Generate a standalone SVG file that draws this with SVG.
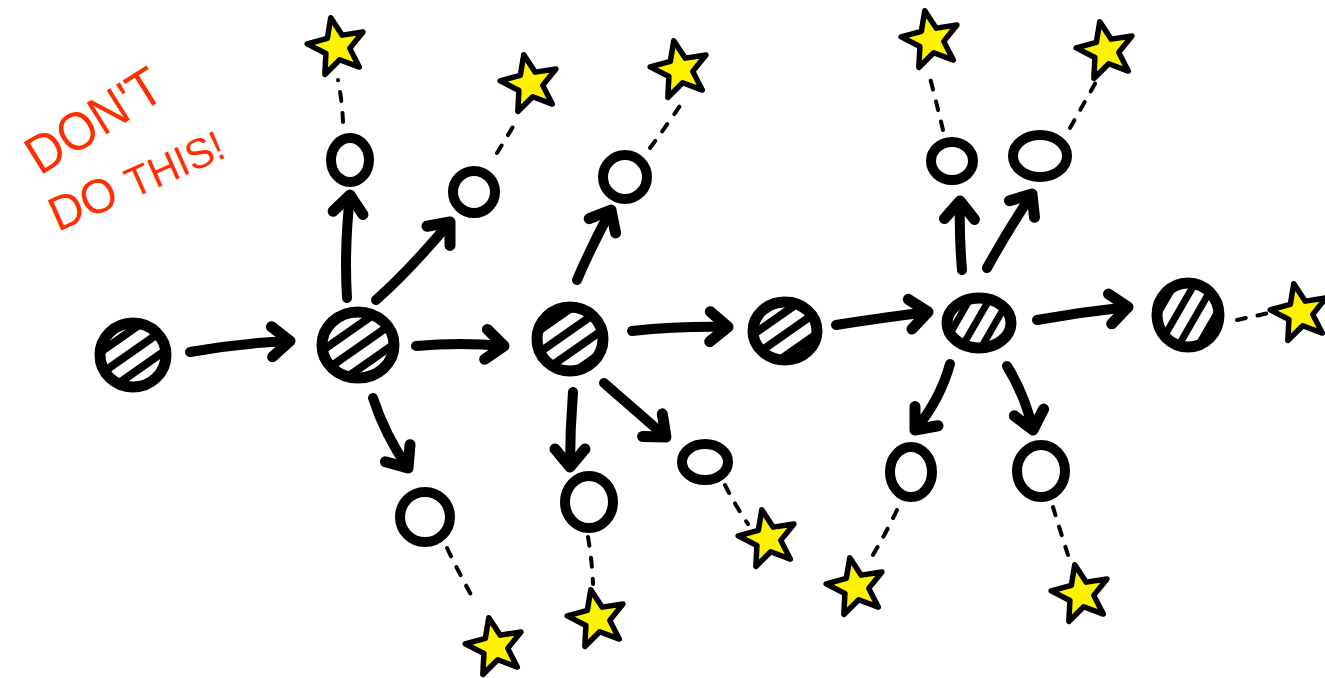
<svg xmlns="http://www.w3.org/2000/svg" width="1325" height="678" viewBox="0 0 1325 678">
<style>
.ring{fill:#fff;stroke:#000;stroke-width:10}
.hring{fill:none;stroke:#000;stroke-width:11}
.arrow{fill:none;stroke:#000;stroke-width:10;stroke-linecap:round;marker-end:url(#ah)}
.dash{fill:none;stroke:#000;stroke-width:4;stroke-linecap:round;stroke-dasharray:9 12}
.star{fill:#FFF200;stroke:#000;stroke-width:5.5;stroke-linejoin:round}
.note{fill:#FF2E00;font-family:"Liberation Sans",Arial,sans-serif}
</style>
<defs>
<pattern id="hatchA" patternUnits="userSpaceOnUse" width="18" height="18" patternTransform="rotate(-35)">
<rect width="18" height="18" fill="#fff"/>
<rect y="0" width="18" height="8" fill="#000"/>
</pattern>
<pattern id="hatchB" patternUnits="userSpaceOnUse" width="17" height="17" patternTransform="rotate(-60)">
<rect width="17" height="17" fill="#fff"/>
<rect y="0" width="17" height="7" fill="#000"/>
</pattern>
<marker id="ah" markerUnits="userSpaceOnUse" markerWidth="50" markerHeight="50" viewBox="-30 -25 50 50" refX="0" refY="0" orient="auto" overflow="visible">
<path d="M-18,-15 L0,0 L-18,15" fill="none" stroke="#000" stroke-width="11" stroke-linecap="round" stroke-linejoin="round"/>
</marker>
<path id="starShape" d="M0,-30 L7.6,-10.5 L28.5,-9.3 L12.2,4 L17.6,24.3 L0,13 L-17.6,24.3 L-12.2,4 L-28.5,-9.3 L-7.6,-10.5 Z"/>
</defs>

<g id="note">
<text class="note" x="40" y="176" font-size="54" textLength="150" lengthAdjust="spacingAndGlyphs" transform="rotate(-32 40 176)">DON'T</text>
<text class="note" x="58" y="232" font-size="48" textLength="186" lengthAdjust="spacingAndGlyphs" transform="rotate(-24 58 232)">DO <tspan font-size="42">THIS!</tspan></text>
</g>

<g id="connectors">
<path class="arrow" d="M190,352 Q240,343 290,341"/>
<path class="arrow" d="M347,298 Q344,250 350,195"/>
<path class="arrow" d="M376,300 Q410,270 450,222"/>
<path class="arrow" d="M416,346 Q460,342 504,346"/>
<path class="arrow" d="M373,398 Q385,435 408,468"/>
<path class="arrow" d="M577,280 Q592,245 611,210"/>
<path class="arrow" d="M632,331 Q680,326 728,327"/>
<path class="arrow" d="M573,392 Q570,430 570,467"/>
<path class="arrow" d="M604,383 Q635,410 666,437"/>
<path class="arrow" d="M836,325 Q880,318 928,312"/>
<path class="arrow" d="M962,270 Q959,235 960,201"/>
<path class="arrow" d="M987,268 Q1008,230 1032,194"/>
<path class="arrow" d="M1037,320 Q1082,312 1128,307"/>
<path class="arrow" d="M950,364 Q940,400 915,430"/>
<path class="arrow" d="M1007,366 Q1025,395 1033,430"/>

<path class="dash" d="M343,122 Q342,100 338,80"/>
<path class="dash" d="M497,153 Q507,137 518,118"/>
<path class="dash" d="M650,148 Q667,125 684,100"/>
<path class="dash" d="M943,130 Q937,105 930,78"/>
<path class="dash" d="M1070,128 Q1083,105 1096,82"/>
<path class="dash" d="M1237,320 Q1255,316 1273,312"/>
<path class="dash" d="M447,548 Q460,575 474,600"/>
<path class="dash" d="M588,537 Q592,560 593,584"/>
<path class="dash" d="M725,485 Q735,505 748,524"/>
<path class="dash" d="M897,510 Q885,535 870,560"/>
<path class="dash" d="M1053,507 Q1060,530 1068,555"/>
</g>

<g id="h1"><ellipse cx="133" cy="355" rx="33" ry="32" fill="url(#hatchA)"/><ellipse class="hring" cx="133" cy="355" rx="33" ry="32"/></g>
<g id="h2"><ellipse cx="358" cy="345" rx="36" ry="33" fill="url(#hatchA)"/><ellipse class="hring" cx="358" cy="345" rx="36" ry="33"/></g>
<g id="h3"><ellipse cx="570" cy="339" rx="33" ry="32" fill="url(#hatchA)"/><ellipse class="hring" cx="570" cy="339" rx="33" ry="32"/></g>
<g id="h4"><ellipse cx="785" cy="331" rx="32" ry="29" fill="url(#hatchA)"/><ellipse class="hring" cx="785" cy="331" rx="32" ry="29"/></g>
<g id="h5"><ellipse cx="979" cy="323" rx="32" ry="25" fill="url(#hatchB)"/><ellipse class="hring" cx="979" cy="323" rx="32" ry="25"/></g>
<g id="h6"><ellipse cx="1188" cy="315" rx="31" ry="32" fill="url(#hatchB)"/><ellipse class="hring" cx="1188" cy="315" rx="31" ry="32"/></g>

<g id="o1"><ellipse class="ring" cx="350" cy="160" rx="19" ry="22"/></g>
<g id="o2"><ellipse class="ring" cx="474" cy="192" rx="21" ry="21"/></g>
<g id="o3"><ellipse class="ring" cx="625" cy="177" rx="22" ry="22"/></g>
<g id="o4"><ellipse class="ring" cx="425" cy="517" rx="25" ry="25"/></g>
<g id="o5"><ellipse class="ring" cx="589" cy="502" rx="24" ry="26"/></g>
<g id="o6"><ellipse class="ring" cx="705" cy="462" rx="23" ry="18"/></g>
<g id="o7"><ellipse class="ring" cx="952" cy="161" rx="21" ry="19"/></g>
<g id="o8"><ellipse class="ring" cx="1040" cy="156" rx="27" ry="21"/></g>
<g id="o9"><ellipse class="ring" cx="911" cy="472" rx="21" ry="25"/></g>
<g id="o10"><ellipse class="ring" cx="1041" cy="471" rx="24" ry="26"/></g>

<g id="s1"><use href="#starShape" class="star" transform="translate(337,47) rotate(-12)"/></g>
<g id="s2"><use href="#starShape" class="star" transform="translate(530,84) rotate(-12)"/></g>
<g id="s3"><use href="#starShape" class="star" transform="translate(680,70) rotate(-12)"/></g>
<g id="s4"><use href="#starShape" class="star" transform="translate(931,40) rotate(-12)"/></g>
<g id="s5"><use href="#starShape" class="star" transform="translate(1106,51) rotate(-12)"/></g>
<g id="s6"><use href="#starShape" class="star" transform="translate(1300,313) rotate(-12)"/></g>
<g id="s7"><use href="#starShape" class="star" transform="translate(495,647) rotate(-12)"/></g>
<g id="s8"><use href="#starShape" class="star" transform="translate(597,619) rotate(-12)"/></g>
<g id="s9"><use href="#starShape" class="star" transform="translate(768,539) rotate(-12)"/></g>
<g id="s10"><use href="#starShape" class="star" transform="translate(856,587) rotate(-12)"/></g>
<g id="s11"><use href="#starShape" class="star" transform="translate(1081,594) rotate(-12)"/></g>
</svg>
